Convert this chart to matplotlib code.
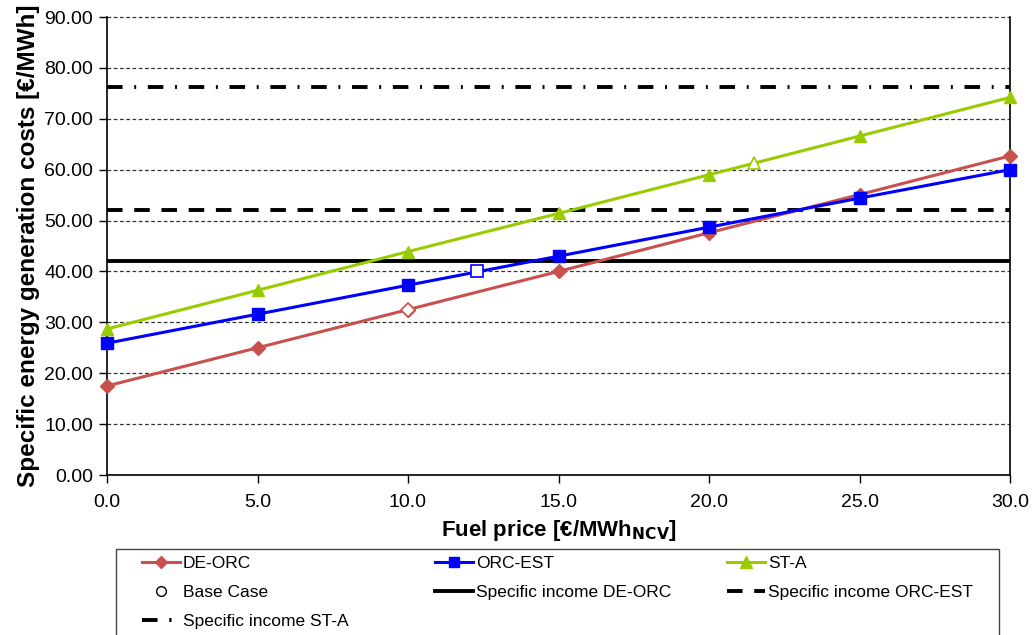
import matplotlib
matplotlib.use("Agg")
import matplotlib.pyplot as plt
from matplotlib.lines import Line2D
from matplotlib.patches import Rectangle

plt.rcParams['font.family'] = ['Liberation Sans', 'DejaVu Sans']

fuel_price = [0.0, 5.0, 10.0, 15.0, 20.0, 25.0, 30.0]
de_orc = [17.5, 25.0, 32.5, 40.0, 47.6, 55.1, 62.7]
orc_est = [25.9, 31.6, 37.3, 43.0, 48.7, 54.4, 60.0]
st_a = [28.7, 36.3, 43.9, 51.4, 59.0, 66.6, 74.2]

base_x = [10.0, 12.3, 21.5]
base_y = [32.5, 40.0, 61.4]

income_de_orc = 42.1
income_orc_est = 52.0
income_st_a = 76.3

xticks = [0, 5, 10, 15, 20, 25, 30]
yticks = [0, 10, 20, 30, 40, 50, 60, 70, 80, 90]

c_de = '#C8504D'
c_orc = '#0000FF'
c_st = '#99CC00'

W, H = 1033, 635
fig = plt.figure(figsize=(W / 100, H / 100), dpi=100)
ax = fig.add_axes([107 / W, 1 - 475 / H, (1010 - 107) / W, (475 - 17) / H])

ax.set_xlim(0, 30)
ax.set_ylim(0, 90)

for yv in yticks[1:]:
    ax.axhline(yv, color='#333333', lw=0.9, ls=(0, (3, 2)), zorder=1, clip_on=False)

ls_dash = (0, (4, 3))
ls_dashdot = (0, (4, 3, 0.5, 3))
ax.axhline(income_de_orc, color='black', lw=2.8, zorder=2)
ax.axhline(income_orc_est, color='black', lw=2.8, ls=ls_dash, zorder=2)
ax.axhline(income_st_a, color='black', lw=2.8, ls=ls_dashdot, zorder=2)

ax.plot(fuel_price, de_orc, color=c_de, lw=2.2, marker='D', ms=7, zorder=3, clip_on=False)
ax.plot(fuel_price, orc_est, color=c_orc, lw=2.2, marker='s', ms=8, zorder=3, clip_on=False)
ax.plot(fuel_price, st_a, color=c_st, lw=2.2, marker='^', ms=9, zorder=3, clip_on=False)

ax.plot([base_x[0]], [base_y[0]], ls='none', marker='D', ms=7, mfc='white', mec=c_de, mew=1.2, zorder=4)
ax.plot([base_x[1]], [base_y[1]], ls='none', marker='s', ms=8, mfc='white', mec=c_orc, mew=1.2, zorder=4)
ax.plot([base_x[2]], [base_y[2]], ls='none', marker='^', ms=9, mfc='white', mec=c_st, mew=1.2, zorder=4)

ax.set_xticks(xticks)
ax.set_xticklabels([f"{v:.1f}" for v in xticks], fontsize=14)
ax.set_yticks(yticks)
ax.set_yticklabels([f"{v:.2f}" for v in yticks], fontsize=14)
ax.tick_params(direction='out', length=6, width=1, colors='black')
ax.tick_params(axis='x', pad=8)
ax.tick_params(axis='y', pad=4)

ax.spines['top'].set_visible(False)
for s in ['left', 'bottom', 'right']:
    ax.spines[s].set_linewidth(1.2)

ax.set_xlabel('Fuel price [€/MWh$_{\\mathbf{NCV}}$]', fontsize=16, fontweight='bold', labelpad=5)
ax.set_ylabel('Specific energy generation costs [€/MWh]', fontsize=17.5, fontweight='bold', labelpad=3)

# legend frame
fig.patches.append(Rectangle((116 / W, 1 - 642 / H), (999 - 116) / W, (642 - 549) / H,
                             transform=fig.transFigure, fill=False, edgecolor='#444444',
                             lw=1.0))

cols = [
    ([Line2D([], [], color=c_de, lw=2.2, marker='D', ms=6),
      Line2D([], [], ls='none', marker='o', ms=7, mfc='white', mec='black'),
      Line2D([], [], color='black', lw=2.8, ls=(0, (4, 3, 0.6, 2.5, 0.6, 2.5)))],
     ['DE-ORC', 'Base Case', 'Specific income ST-A'], 142),
    ([Line2D([], [], color=c_orc, lw=2.2, marker='s', ms=7),
      Line2D([], [], color='black', lw=2.8)],
     ['ORC-EST', 'Specific income DE-ORC'], 435),
    ([Line2D([], [], color=c_st, lw=2.2, marker='^', ms=8),
      Line2D([], [], color='black', lw=2.8, ls=ls_dash)],
     ['ST-A', 'Specific income ORC-EST'], 727),
]
for hs, ls_, x0 in cols:
    lg = fig.legend(hs, ls_, loc='upper left', bbox_to_anchor=(x0 / W, 1 - 556 / H),
                    fontsize=12.5, frameon=False, handlelength=2.2, handletextpad=0.15,
                    labelspacing=0.8, borderpad=0, borderaxespad=0)

fig.savefig('out.png', dpi=100)
